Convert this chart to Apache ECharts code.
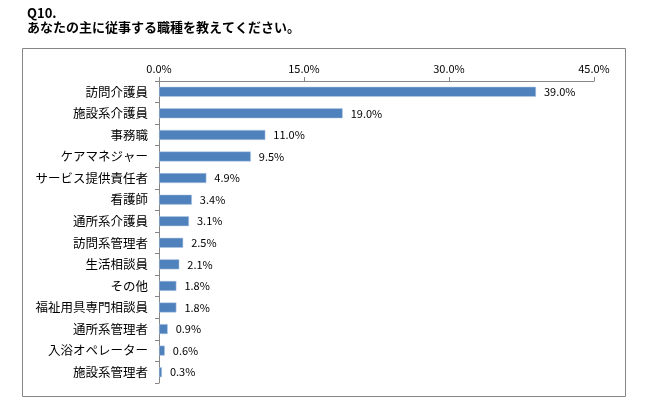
<!DOCTYPE html>
<html>
<head>
    <meta charset="utf-8">
    <title>Q10</title>
    <style>
        html, body { margin: 0; padding: 0; background: #fff; }
        #main { width: 649px; height: 418px; }
    </style>
</head>
<body>
    <div id="main"></div>
    <script src="https://cdn.jsdelivr.net/npm/echarts@6/dist/echarts.min.js"></script>
    <script>
    var categories = ['訪問介護員', '施設系介護員', '事務職', 'ケアマネジャー', 'サービス提供責任者', '看護師', '通所系介護員',
        '訪問系管理者', '生活相談員', 'その他', '福祉用具専門相談員', '通所系管理者', '入浴オペレーター', '施設系管理者'];
    var values = [39.0, 19.0, 11.0, 9.5, 4.9, 3.4, 3.1, 2.5, 2.1, 1.8, 1.8, 0.9, 0.6, 0.3];

    var font = '"Noto Sans CJK JP", sans-serif';
    var chart = echarts.init(document.getElementById('main'));

    var option = {
        animation: false,
        textStyle: { fontFamily: font, color: '#000' },
        graphic: [
            {
                type: 'rect',
                shape: { x: 22.5, y: 48.5, width: 603, height: 348 },
                style: { fill: 'none', stroke: '#868686', lineWidth: 1 }
            },
            {
                type: 'text', left: 27, top: 7,
                style: { text: 'Q10.', font: 'bold 13px ' + font, fill: '#000' }
            },
            {
                type: 'text', left: 27, top: 21,
                style: { text: 'あなたの主に従事する職種を教えてください。', font: 'bold 13px ' + font, fill: '#000' }
            }
        ],
        grid: { left: 159, right: 55, top: 81, bottom: 35 },
        xAxis: {
            type: 'value',
            position: 'top',
            min: 0,
            max: 45,
            interval: 15,
            axisLine: { show: true, lineStyle: { color: '#868686' } },
            axisTick: { show: true, length: 4, lineStyle: { color: '#868686' } },
            axisLabel: {
                fontSize: 11,
                color: '#000',
                margin: 7,
                formatter: function (v) { return v.toFixed(1) + '%'; }
            },
            splitLine: { show: false }
        },
        yAxis: {
            type: 'category',
            inverse: true,
            data: categories,
            axisLine: { show: true, lineStyle: { color: '#868686' } },
            axisTick: { show: true, length: 4, lineStyle: { color: '#868686' } },
            axisLabel: { fontSize: 12.5, color: '#000', margin: 11 }
        },
        series: [{
            type: 'bar',
            data: values,
            barWidth: 10,
            itemStyle: { color: '#4F81BD', borderColor: '#B9CDE5', borderWidth: 0.5 },
            label: {
                show: true,
                position: 'right',
                distance: 8,
                fontSize: 11,
                color: '#000',
                formatter: function (p) { return p.value.toFixed(1) + '%'; }
            }
        }]
    };
    chart.setOption(option);
    window.onresize = chart.resize;
    </script>
</body>
</html>
